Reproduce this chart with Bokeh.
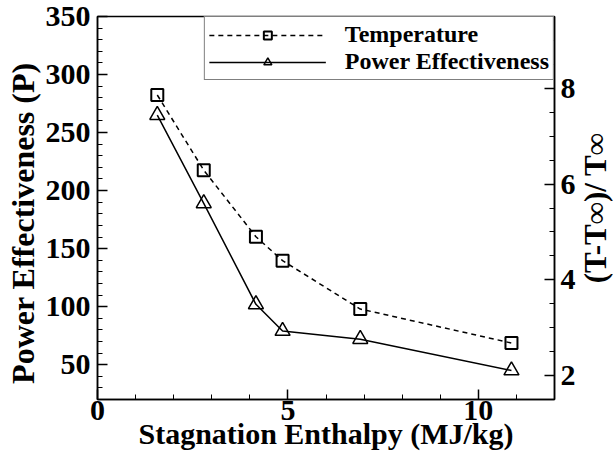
import math
from bokeh.plotting import figure
from bokeh.models import Range1d, LinearAxis, SingleIntervalTicker, Legend, LegendItem, Label
from bokeh.embed import file_html
from bokeh.resources import INLINE

# ---- data ----
enthalpy = [1.57, 2.79, 4.16, 4.86, 6.90, 10.87]          # MJ/kg
power_eff = [265, 189, 102, 79, 72, 45]                   # left axis
temperature = [7.86, 6.29, 4.90, 4.40, 3.39, 2.68]        # right axis
x_label = "Stagnation Enthalpy (MJ/kg)"
y_label = "Power Effectiveness (P)"
y2_label = "(T-T\u221e)/ T\u221e"
series_names = ["Temperature", "Power Effectiveness"]

X_RANGE = (0, 12)
Y_RANGE = (20, 350)
Y2_RANGE = (1.5, 9.5)

FONT = "Liberation Serif"

p = figure(width=613, height=461, output_backend="svg", toolbar_location=None,
           x_range=Range1d(*X_RANGE), y_range=Range1d(*Y_RANGE),
           min_border_left=97, min_border_right=56, min_border_top=16,
           min_border_bottom=62)
p.extra_y_ranges = {"temp": Range1d(*Y2_RANGE)}
p.grid.visible = False
p.outline_line_color = "black"
p.outline_line_width = 1.5
p.background_fill_color = "white"
p.border_fill_color = "white"


def style(ax):
    ax.axis_line_color = "black"
    ax.axis_line_width = 1.5
    ax.major_tick_in = 10
    ax.major_tick_out = 0
    ax.minor_tick_in = 5
    ax.minor_tick_out = 0
    ax.major_tick_line_color = "black"
    ax.minor_tick_line_color = "black"
    ax.major_tick_line_width = 1.5
    ax.minor_tick_line_width = 1
    ax.major_label_text_font = FONT
    ax.major_label_text_font_style = "bold"
    ax.major_label_text_font_size = "30px"
    ax.major_label_text_color = "black"
    ax.axis_label_text_font = FONT
    ax.axis_label_text_font_style = "bold"
    ax.axis_label_text_font_size = "30px"
    ax.axis_label_text_color = "black"


xa = p.xaxis[0]
xa.ticker = SingleIntervalTicker(interval=5, num_minor_ticks=5)
xa.axis_label = x_label
style(xa)
xa.major_label_standoff = 1
xa.axis_label_standoff = -6

ya = p.yaxis[0]
ya.ticker = SingleIntervalTicker(interval=50, num_minor_ticks=5)
style(ya)
ya.major_label_standoff = 7

ra = LinearAxis(y_range_name="temp",
                ticker=SingleIntervalTicker(interval=2, num_minor_ticks=4))
style(ra)
ra.major_label_standoff = 6
p.add_layout(ra, "right")

# vertical axis titles (reading bottom-to-top, as in the reference),
# placed in the side panels so that they are not clipped by the frame
left_title = Label(x=X_RANGE[0], y=172, x_offset=-75, angle=math.pi / 2,
                   text=y_label, text_align="center", text_baseline="alphabetic",
                   text_font=FONT, text_font_style="bold", text_font_size="32px",
                   text_color="black")
right_title = Label(x=X_RANGE[1], y=(Y_RANGE[0] + Y_RANGE[1]) / 2, x_offset=41,
                    angle=math.pi / 2, text=y2_label, text_align="center",
                    text_baseline="alphabetic", text_font=FONT,
                    text_font_style="bold", text_font_size="31px",
                    text_color="black")
p.add_layout(left_title, "left")
p.add_layout(right_title, "right")

t_line = p.line(enthalpy, temperature, y_range_name="temp", line_color="black",
                line_width=1.5, line_dash="5 4")
t_mark = p.scatter(enthalpy, temperature, y_range_name="temp", marker="square",
                   size=12, fill_alpha=0, line_color="black", line_width=2)
p_line = p.line(enthalpy, power_eff, line_color="black", line_width=1.5)
p_mark = p.scatter(enthalpy, power_eff, marker="triangle", size=15,
                   fill_alpha=0, line_color="black", line_width=1.5)

legend = Legend(items=[LegendItem(label=series_names[0], renderers=[t_line, t_mark]),
                       LegendItem(label=series_names[1], renderers=[p_line, p_mark])],
                location="top_right")
legend.margin = 0
legend.padding = 4
legend.spacing = 0
legend.glyph_width = 117
legend.glyph_height = 20
legend.label_standoff = 19
legend.label_text_font = FONT
legend.label_text_font_style = "bold"
legend.label_text_font_size = "24px"
legend.label_text_color = "black"
legend.border_line_color = "black"
legend.border_line_width = 1.5
legend.background_fill_color = "white"
legend.background_fill_alpha = 1
p.add_layout(legend)

open("out.html", "w").write(file_html(p, INLINE))
